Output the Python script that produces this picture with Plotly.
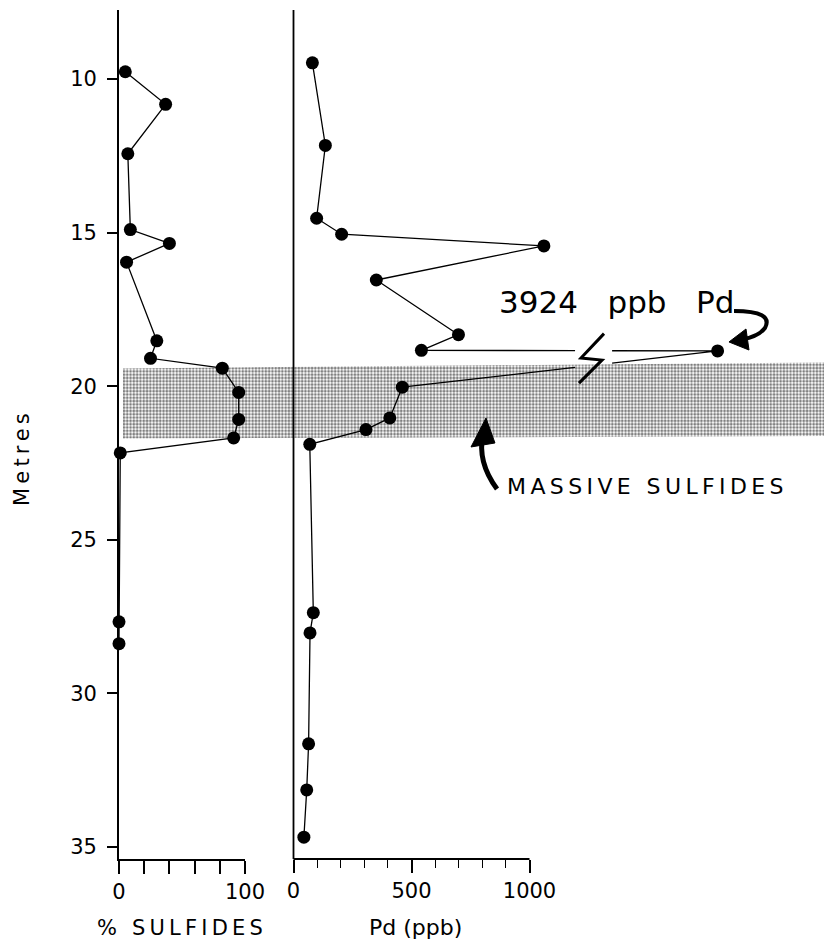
import plotly.graph_objects as go

# % sulfides vs depth (left panel)
sulf_depth = [9.76, 10.82, 12.43, 14.90, 15.35, 15.96, 18.52, 19.09, 19.41,
              20.20, 21.08, 21.68, 22.17, 27.67, 28.38]
sulf_pct = [5, 37, 7, 9, 40, 6, 30, 25, 82, 95, 95, 91, 1, 0, 0]

# Pd (ppb) vs depth (right panel); 3924 is off scale, drawn past a break
pd_depth = [9.47, 12.16, 14.53, 15.05, 15.43, 16.54, 18.32, 18.83, 18.85,
            20.03, 21.03, 21.41, 21.89, 27.37, 28.03, 31.64, 33.14, 34.68]
pd_ppb = [80, 135, 98, 204, 1061, 351, 699, 542, 3924,
          461, 408, 307, 69, 84, 70, 64, 56, 44]

# massive sulfide zone (top / bottom depth, left and right ends)
band_top = [19.42, 19.22]
band_bot = [21.70, 21.62]

y_ticks = [10, 15, 20, 25, 30, 35]
sulf_ticks = [0, 20, 40, 60, 80, 100]
pd_major = [0, 500, 1000]
pd_minor = [100, 200, 300, 400, 600, 700, 800, 900]

FONT = "DejaVu Sans"
OFF = 8                      # page body margin added by the html page
W, H = 832 - OFF, 947 - OFF
ML, MT = 119 - OFF, 10 - OFF
MB = H - (859 - OFF)
PW, PH = W - ML, H - MT - MB

X0_PD, PD_SCALE = 293.5, 0.236   # page x of Pd=0, px per ppb
OFFSCALE = 2000      # values above this are drawn at the break
BREAK_AT = 1797
GAP = (1193, 1350)   # gap in the line where the break symbol sits


def px(x):
    return (x - OFF - ML) / PW


def py(y):
    return (H - MB - (y - OFF)) / PH


def broken_line(xs, ys, lo, hi):
    lx, ly = [xs[0]], [ys[0]]
    for i in range(1, len(xs)):
        x0, y0, x1, y1 = xs[i - 1], ys[i - 1], xs[i], ys[i]
        if min(x0, x1) < lo and max(x0, x1) > hi:
            a, b = (lo, hi) if x0 < x1 else (hi, lo)
            at = lambda xc: y0 + (y1 - y0) * (xc - x0) / (x1 - x0)
            lx += [a, None, b, x1]
            ly += [at(a), None, at(b), y1]
        else:
            lx.append(x1)
            ly.append(y1)
    return lx, ly


pd_plot = [v if v < OFFSCALE else BREAK_AT for v in pd_ppb]
pd_lx, pd_ly = broken_line(pd_plot, pd_depth, *GAP)

fig = go.Figure()

# stippled band (drawn first so it sits under the data)
fig.add_trace(go.Scatter(
    x=[123, 832, 832, 123, 123],
    y=[band_top[0], band_top[1], band_bot[1], band_bot[0], band_top[0]],
    xaxis="x", yaxis="y", mode="none", fill="toself",
    fillcolor="rgba(0,0,0,0)",
    fillpattern=dict(shape=".", size=3.3, solidity=0.55, fgcolor="black", bgcolor="white"),
    hoverinfo="skip", showlegend=False))

fig.add_trace(go.Scatter(
    x=sulf_pct, y=sulf_depth, xaxis="x2", yaxis="y", mode="lines+markers",
    line=dict(color="black", width=1.3),
    marker=dict(color="black", size=13), cliponaxis=False, showlegend=False))

fig.add_trace(go.Scatter(
    x=pd_lx, y=pd_ly, xaxis="x3", yaxis="y", mode="lines",
    line=dict(color="black", width=1.3), showlegend=False))
fig.add_trace(go.Scatter(
    x=pd_plot, y=pd_depth, xaxis="x3", yaxis="y", mode="markers",
    marker=dict(color="black", size=13), cliponaxis=False, showlegend=False))

x3_max = (832 - X0_PD) / PD_SCALE
axis_font = dict(family=FONT, size=21, color="black")

fig.update_layout(
    width=W, height=H,
    margin=dict(l=ML, r=0, t=MT, b=MB, autoexpand=False),
    paper_bgcolor="white", plot_bgcolor="rgba(0,0,0,0)",
    font=dict(family=FONT, color="black"),
    xaxis=dict(domain=[0, 1], range=[119, 832], visible=False, fixedrange=True,
               automargin=False),
    xaxis2=dict(domain=[0, px(245)], range=[0, 100], anchor="y",
                automargin=False,
                showline=True, linecolor="black", linewidth=1.8,
                showgrid=False, zeroline=False,
                tickmode="array", tickvals=sulf_ticks,
                ticktext=["0", "", "", "", "", "100"],
                ticks="outside", ticklen=13, tickwidth=1.6, tickcolor="black",
                tickfont=axis_font),
    xaxis3=dict(domain=[px(X0_PD), 1], range=[0, x3_max], anchor="y",
                automargin=False,
                showline=False, showgrid=False, zeroline=False,
                tickmode="array", tickvals=pd_major,
                ticktext=[str(v) for v in pd_major],
                ticks="outside", ticklen=13, tickwidth=1.6, tickcolor="black",
                tickfont=axis_font,
                minor=dict(tickvals=pd_minor, ticks="outside", ticklen=8,
                           tickwidth=1.4, tickcolor="black", showgrid=False)),
    yaxis=dict(domain=[0, 1], range=[35.39, 7.75], anchor="x2",
               automargin=False,
               showline=True, linecolor="black", linewidth=1.8,
               showgrid=False, zeroline=False,
               tickmode="array", tickvals=y_ticks,
               ticks="outside", ticklen=10, tickwidth=1.6, tickcolor="black",
               tickfont=axis_font, ticklabelstandoff=6),
)

shapes = [
    # right panel axes (paper refs so they are not clipped at the edge)
    dict(type="line", xref="paper", yref="paper", x0=px(X0_PD), x1=px(X0_PD),
         y0=0, y1=1, line=dict(color="black", width=1.8)),
    dict(type="line", xref="paper", yref="paper", x0=px(X0_PD),
         x1=px(X0_PD + 1000 * PD_SCALE), y0=0, y1=0,
         line=dict(color="black", width=1.8)),
]


def to_x3(p):
    return (p - X0_PD) / PD_SCALE


def to_y(p):
    return (p - 79) / 30.72 + 10


zig = [(604, 333.5), (581, 358), (602, 360), (579, 383)]
zig_path = "M " + " L ".join(f"{to_x3(a):.1f},{to_y(b):.3f}" for a, b in zig)
shapes.append(dict(type="path", xref="x3", yref="y", path=zig_path,
                   line=dict(color="black", width=3)))


def ppath(cmds):
    out = []
    for c in cmds:
        if isinstance(c, str):
            out.append(c)
        else:
            out.append(f"{px(c[0]):.4f},{py(c[1]):.4f}")
    return " ".join(out)


# curly arrow pointing at the 3924 point
shapes.append(dict(type="path", xref="paper", yref="paper",
                   path=ppath(["M", (734, 311), "Q", (774, 311), (765, 328),
                               "Q", (758, 337), (743, 339)]),
                   line=dict(color="black", width=4)))
shapes.append(dict(type="path", xref="paper", yref="paper",
                   path=ppath(["M", (729, 342), "L", (746, 329), "L", (749, 350), "Z"]),
                   fillcolor="black", line=dict(color="black", width=1)))

# arrow for massive sulfides
shapes.append(dict(type="path", xref="paper", yref="paper",
                   path=ppath(["M", (497, 489), "Q", (477, 462), (483, 434)]),
                   line=dict(color="black", width=5)))
shapes.append(dict(type="path", xref="paper", yref="paper",
                   path=ppath(["M", (486, 418), "L", (471, 447), "L", (495, 443), "Z"]),
                   fillcolor="black", line=dict(color="black", width=1)))

fig.update_layout(shapes=shapes)

ts = "\u2009"
sp3 = "\u00a0\u00a0\u00a0"
annos = [
    dict(text="3924" + sp3 + "ppb" + sp3 + "Pd", x=px(497), y=py(302),
         xanchor="left", yanchor="middle", font=dict(size=31)),
    dict(text=ts.join("MASSIVE SULFIDES"), x=px(505), y=py(486),
         xanchor="left", yanchor="middle", font=dict(size=22)),
    dict(text=ts.join("% SULFIDES"), x=px(180), y=py(928),
         xanchor="center", yanchor="middle", font=dict(size=21)),
    dict(text="Pd (ppb)", x=px(415), y=py(928),
         xanchor="center", yanchor="middle", font=dict(size=22)),
    dict(text=ts.join("Metres"), x=px(22), y=py(460), textangle=-90,
         xanchor="center", yanchor="middle", font=dict(size=21)),
]
for a in annos:
    a.update(xref="paper", yref="paper", showarrow=False)
    a["font"].update(family=FONT, color="black")
fig.update_layout(annotations=annos)

fig.write_html("out.html")
